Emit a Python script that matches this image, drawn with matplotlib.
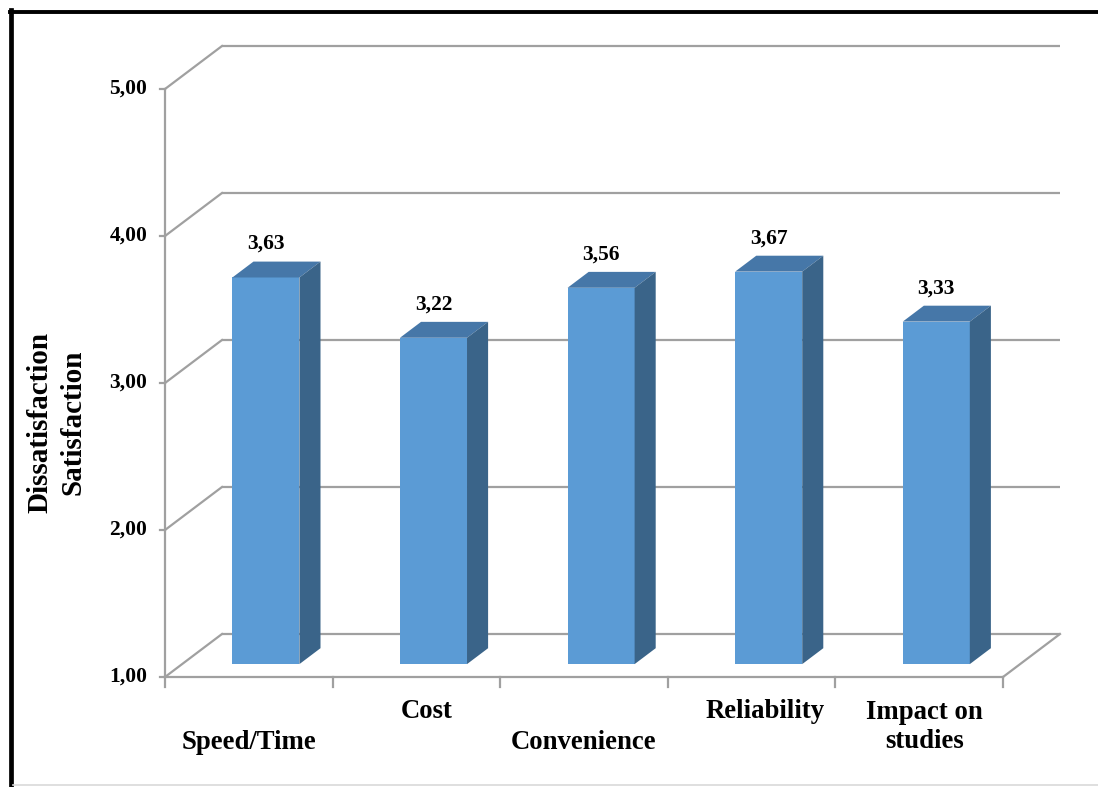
import numpy as np
import matplotlib
matplotlib.use("Agg")
import matplotlib.pyplot as plt
from matplotlib.patches import Polygon
from matplotlib.lines import Line2D

# Mean scores per aspect (1 = dissatisfaction ... 5 = satisfaction)
categories = ["Speed/Time", "Cost", "Convenience", "Reliability", "Impact on\nstudies"]
values = [3.63, 3.22, 3.56, 3.67, 3.33]
value_labels = ["3,63", "3,22", "3,56", "3,67", "3,33"]
y_ticks = [1, 2, 3, 4, 5]
y_tick_labels = ["1,00", "2,00", "3,00", "4,00", "5,00"]

# Oblique "3D" look: depth offsets in data units
DX = 0.340
DY = 0.2925
BAR_FRONT = 0.30   # depth where the bar front face sits
BAR_BACK = 0.67    # depth of the bar back face
BAR_W = 0.40

FRONT_COLOR = "#5B9BD5"
TOP_COLOR = "#4677A8"
SIDE_COLOR = "#3A6489"
GRID_COLOR = "#A0A0A0"

SERIF = ["Liberation Serif", "DejaVu Serif"]

fig = plt.figure(figsize=(10.98, 7.87), dpi=100)
fig.patch.set_facecolor("white")

W, H = 1098, 787
ax = fig.add_axes([150 / W, (H - 690) / H, 920 / W, 660 / H])
ax.set_xlim(-0.5895, 4.8998)
ax.set_ylim(0.9116, 5.4014)
ax.axis("off")

x = np.arange(len(categories))
vals = np.array(values)

# back wall gridlines and their diagonal links to the front axis
for k, klab in zip(y_ticks, y_tick_labels):
    ax.plot([-0.5 + DX, 4.5 + DX], [k + DY, k + DY], color=GRID_COLOR, lw=1.6,
            solid_capstyle="butt", zorder=1)
    ax.plot([-0.5, -0.5 + DX], [k, k + DY], color=GRID_COLOR, lw=1.6, zorder=1)
    # small tick on the front axis
    ax.plot([-0.5 - 0.03, -0.5], [k, k], color=GRID_COLOR, lw=1.6, zorder=1)
    ax.text(-0.5 - 0.105, k, klab, ha="right", va="center",
            fontsize=15.5, fontweight="bold", family=SERIF)

# front vertical axis and floor edges
ax.plot([-0.5, -0.5], [1, 5], color=GRID_COLOR, lw=1.6, zorder=1)
ax.plot([-0.5, 4.5], [1, 1], color=GRID_COLOR, lw=1.6, zorder=1)
ax.plot([4.5, 4.5 + DX], [1, 1 + DY], color=GRID_COLOR, lw=1.6, zorder=1)
for xt in np.arange(-0.5, 5.0, 1.0):
    ax.plot([xt, xt], [1, 1 - 0.07], color=GRID_COLOR, lw=1.6, zorder=1)

# bars: front face, top face and right side face
xf = x + BAR_FRONT * DX
yb = 1 + BAR_FRONT * DY
dd = BAR_BACK - BAR_FRONT
ax.bar(xf, vals - 1, bottom=yb, width=BAR_W, color=FRONT_COLOR, zorder=3)
for xc, v, lab in zip(xf, vals, value_labels):
    x0, x1 = xc - BAR_W / 2, xc + BAR_W / 2
    top = v + BAR_FRONT * DY
    ax.add_patch(Polygon([(x0, top), (x1, top), (x1 + dd * DX, top + dd * DY),
                          (x0 + dd * DX, top + dd * DY)],
                         closed=True, facecolor=TOP_COLOR, edgecolor="none", zorder=3))
    ax.add_patch(Polygon([(x1, yb), (x1, top), (x1 + dd * DX, top + dd * DY),
                          (x1 + dd * DX, yb + dd * DY)],
                         closed=True, facecolor=SIDE_COLOR, edgecolor="none", zorder=3))
    ax.annotate(lab, (xc, top + dd * DY), xytext=(0, 9), textcoords="offset points",
                ha="center", va="baseline", fontsize=15.5, fontweight="bold",
                family=SERIF, zorder=4)

# staggered category labels below the floor
label_x = [0.0, 1.06, 2.0, 3.08, 4.03]
label_y = [0.555, 0.765, 0.555, 0.765, 0.66]
for lx, ly, cat in zip(label_x, label_y, categories):
    ax.text(lx, ly, cat, ha="center", va="center", fontsize=19.3, fontweight="bold",
            family=SERIF, linespacing=1.22, clip_on=False)

fig.text(56.5 / W, 1 - 422 / H, "Dissatisfaction\nSatisfaction", rotation=90,
         ha="center", va="center", fontsize=21, fontweight="bold", family=SERIF,
         linespacing=1.3)

# outer frame: thick black on left and top, faint grey at the bottom
fig.add_artist(Line2D([11 / W, 11 / W], [0, 1 - 10 / H], color="black", lw=3.4,
                      transform=fig.transFigure))
fig.add_artist(Line2D([9.5 / W, 1], [1 - 11.5 / H, 1 - 11.5 / H], color="black", lw=2.8,
                      transform=fig.transFigure))
fig.add_artist(Line2D([13 / W, 1], [1 - 785 / H, 1 - 785 / H], color="#D9D9D9", lw=1.2,
                      transform=fig.transFigure))

fig.savefig("out.png", dpi=100, facecolor="white")
